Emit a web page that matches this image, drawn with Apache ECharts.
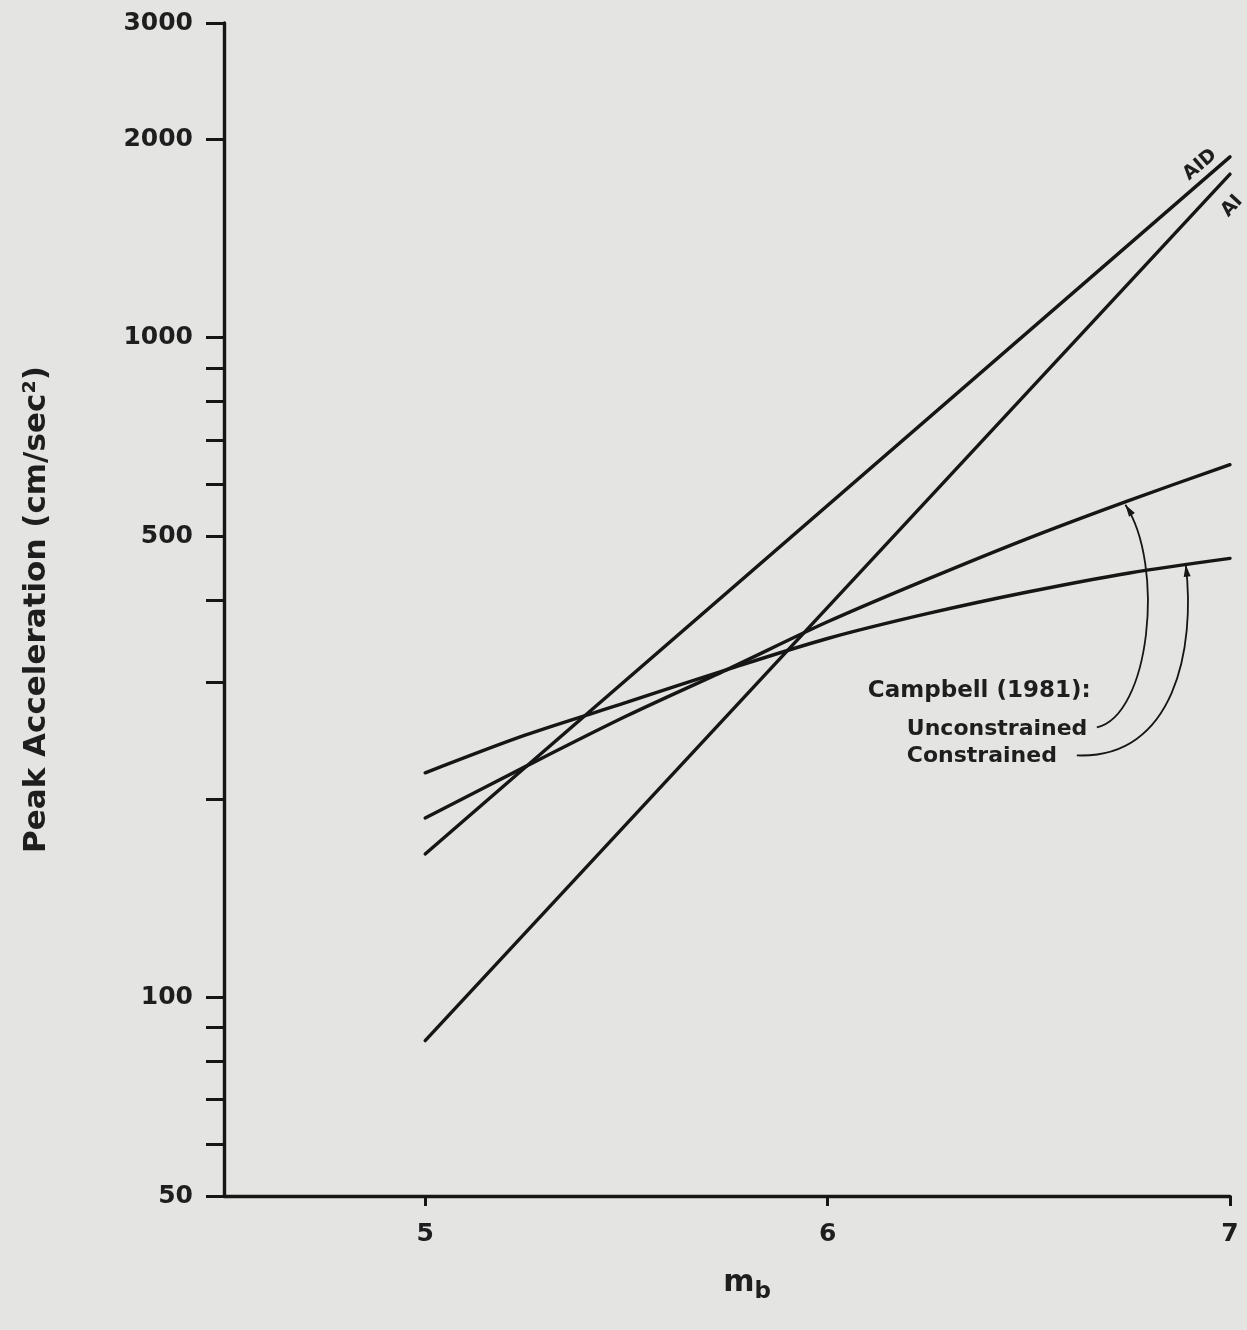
<!DOCTYPE html>
<html>
<head>
<meta charset="utf-8">
<script src="https://cdn.jsdelivr.net/npm/echarts@6/dist/echarts.min.js"></script>
<style>
  html, body { margin: 0; padding: 0; background: #e4e4e2; }
  #chart { width: 1247px; height: 1330px; }
</style>
</head>
<body>
<div id="chart"></div>
<script>
// magnitude values and peak accelerations
var mbCampbell = [5, 5.25, 5.5, 5.75, 6, 6.25, 6.5, 6.75, 7];
var unconstrained = [187, 224, 267, 314, 371, 431, 497, 567, 642];
var constrained = [219, 250, 280, 314, 350, 382, 412, 440, 463];
var mbLines = [5, 7];
var aidValues = [165, 1880];
var aiValues = [86, 1770];

// axis ticks
var xTicks = [5, 6, 7];
var yTicks = [50, 60, 70, 80, 90, 100, 200, 300, 400, 500, 600, 700, 800, 900, 1000, 2000, 3000];
var yLabels = [50, 100, 500, 1000, 2000, 3000];

var INK = "#161616";
var FONT = "DejaVu Sans";

function pairs(xs, ys) {
  return xs.map(function (x, i) {
    return [x, ys[i]];
  });
}

function curve(name, xs, ys, smooth) {
  return {
    name: name,
    type: "line",
    data: pairs(xs, ys),
    symbol: "none",
    smooth: smooth,
    silent: true,
    lineStyle: { color: INK, width: 3.4, cap: "round" },
  };
}

var myChart = echarts.init(document.getElementById("chart"));

var option = {
  backgroundColor: "#e4e4e2",
  animation: false,
  grid: { left: 224, right: 17, top: 23, bottom: 134, outerBoundsMode: "none" },
  xAxis: {
    type: "value",
    min: 4.5,
    max: 7,
    name: "{m|m}{b|b}",
    nameLocation: "middle",
    nameGap: 72,
    nameTextStyle: {
      padding: [0, 0, 0, 40],
      rich: {
        m: { fontFamily: FONT, fontSize: 30, fontWeight: "bold", color: "#1e1e1e", verticalAlign: "top" },
        b: { fontFamily: FONT, fontSize: 23, fontWeight: "bold", color: "#1e1e1e", padding: [13, 0, 0, 0], verticalAlign: "top" },
      },
    },
    axisLine: { onZero: false, lineStyle: { color: INK, width: 3.4 } },
    axisTick: { customValues: xTicks, length: 10, lineStyle: { color: INK, width: 3 } },
    axisLabel: {
      customValues: xTicks,
      margin: 26,
      fontFamily: FONT,
      fontWeight: "bold",
      fontSize: 25,
      color: "#1e1e1e",
      formatter: function (v) { return String(v); },
    },
    splitLine: { show: false },
  },
  yAxis: {
    type: "log",
    logBase: 10,
    min: 50,
    max: 3000,
    name: "Peak Acceleration (cm/sec²)",
    nameLocation: "middle",
    nameGap: 172,
    nameTextStyle: { fontFamily: FONT, fontWeight: "bold", fontSize: 31, color: "#1e1e1e" },
    axisLine: { show: true, onZero: false, lineStyle: { color: INK, width: 3.4 } },
    axisTick: { customValues: yTicks, length: 18, lineStyle: { color: INK, width: 3 } },
    axisLabel: {
      customValues: yLabels,
      margin: 31,
      fontFamily: FONT,
      fontWeight: "bold",
      fontSize: 25,
      color: "#1e1e1e",
      formatter: function (v) { return String(v); },
    },
    splitLine: { show: false },
    minorTick: { show: false },
  },
  series: [
    curve("AID", mbLines, aidValues, false),
    curve("AI", mbLines, aiValues, false),
    curve("Campbell unconstrained", mbCampbell, unconstrained, 0.3),
    curve("Campbell constrained", mbCampbell, constrained, 0.3),
  ],
};

myChart.setOption(option);

// annotations placed from data coordinates
function px(x, y) {
  return myChart.convertToPixel({ gridIndex: 0 }, [x, y]);
}

function label(text, p, rot, size, align) {
  return {
    type: "text",
    x: p[0],
    y: p[1],
    rotation: rot || 0,
    silent: true,
    style: {
      text: text,
      font: "bold " + size + "px " + FONT,
      fill: "#1e1e1e",
      align: align || "center",
      verticalAlign: "middle",
      textAlign: align || "center",
      textVerticalAlign: "middle",
    },
  };
}

function arrow(s, c1, c2, t) {
  var dx = t[0] - c2[0];
  var dy = t[1] - c2[1];
  var len = Math.sqrt(dx * dx + dy * dy);
  var ux = dx / len;
  var uy = dy / len;
  var L = 12;
  var W = 3.5;
  var bx = t[0] - ux * L;
  var by = t[1] - uy * L;
  return [
    {
      type: "bezierCurve",
      silent: true,
      shape: { x1: s[0], y1: s[1], cpx1: c1[0], cpy1: c1[1], cpx2: c2[0], cpy2: c2[1], x2: t[0], y2: t[1] },
      style: { stroke: INK, lineWidth: 1.8, fill: null },
    },
    {
      type: "polygon",
      silent: true,
      shape: { points: [[t[0], t[1]], [bx - uy * W, by + ux * W], [bx + uy * W, by - ux * W]] },
      style: { fill: INK },
    },
  ];
}

var base = px(6.1, 291);
var tipU = px(6.74, 562);
var tipC = px(6.89, 456);
var startU = [base[0] + 229, base[1] + 36];
var startC = [base[0] + 209, base[1] + 64];
var endAID = px(7, 1880);
var endAI = px(7, 1770);

var graphics = [
  label("Campbell (1981):", base, 0, 23, "left"),
  label("Unconstrained", [base[0] + 39, base[1] + 38], 0, 22, "left"),
  label("Constrained", [base[0] + 39, base[1] + 65], 0, 22, "left"),
  label("AID", [endAID[0] - 30, endAID[1] + 8], 0.71, 19),
  label("AI", [endAI[0] + 2, endAI[1] + 32], 0.82, 19),
]
  .concat(arrow(startU, [startU[0] + 53, startU[1] - 12], [tipU[0] + 40, tipU[1] + 63], [tipU[0], tipU[1] + 2]))
  .concat(arrow(startC, [startC[0] + 98, startC[1] + 4], [tipC[0] + 10, tipC[1] + 85], [tipC[0], tipC[1] + 2]));

myChart.setOption({ graphic: graphics });
</script>
</body>
</html>
